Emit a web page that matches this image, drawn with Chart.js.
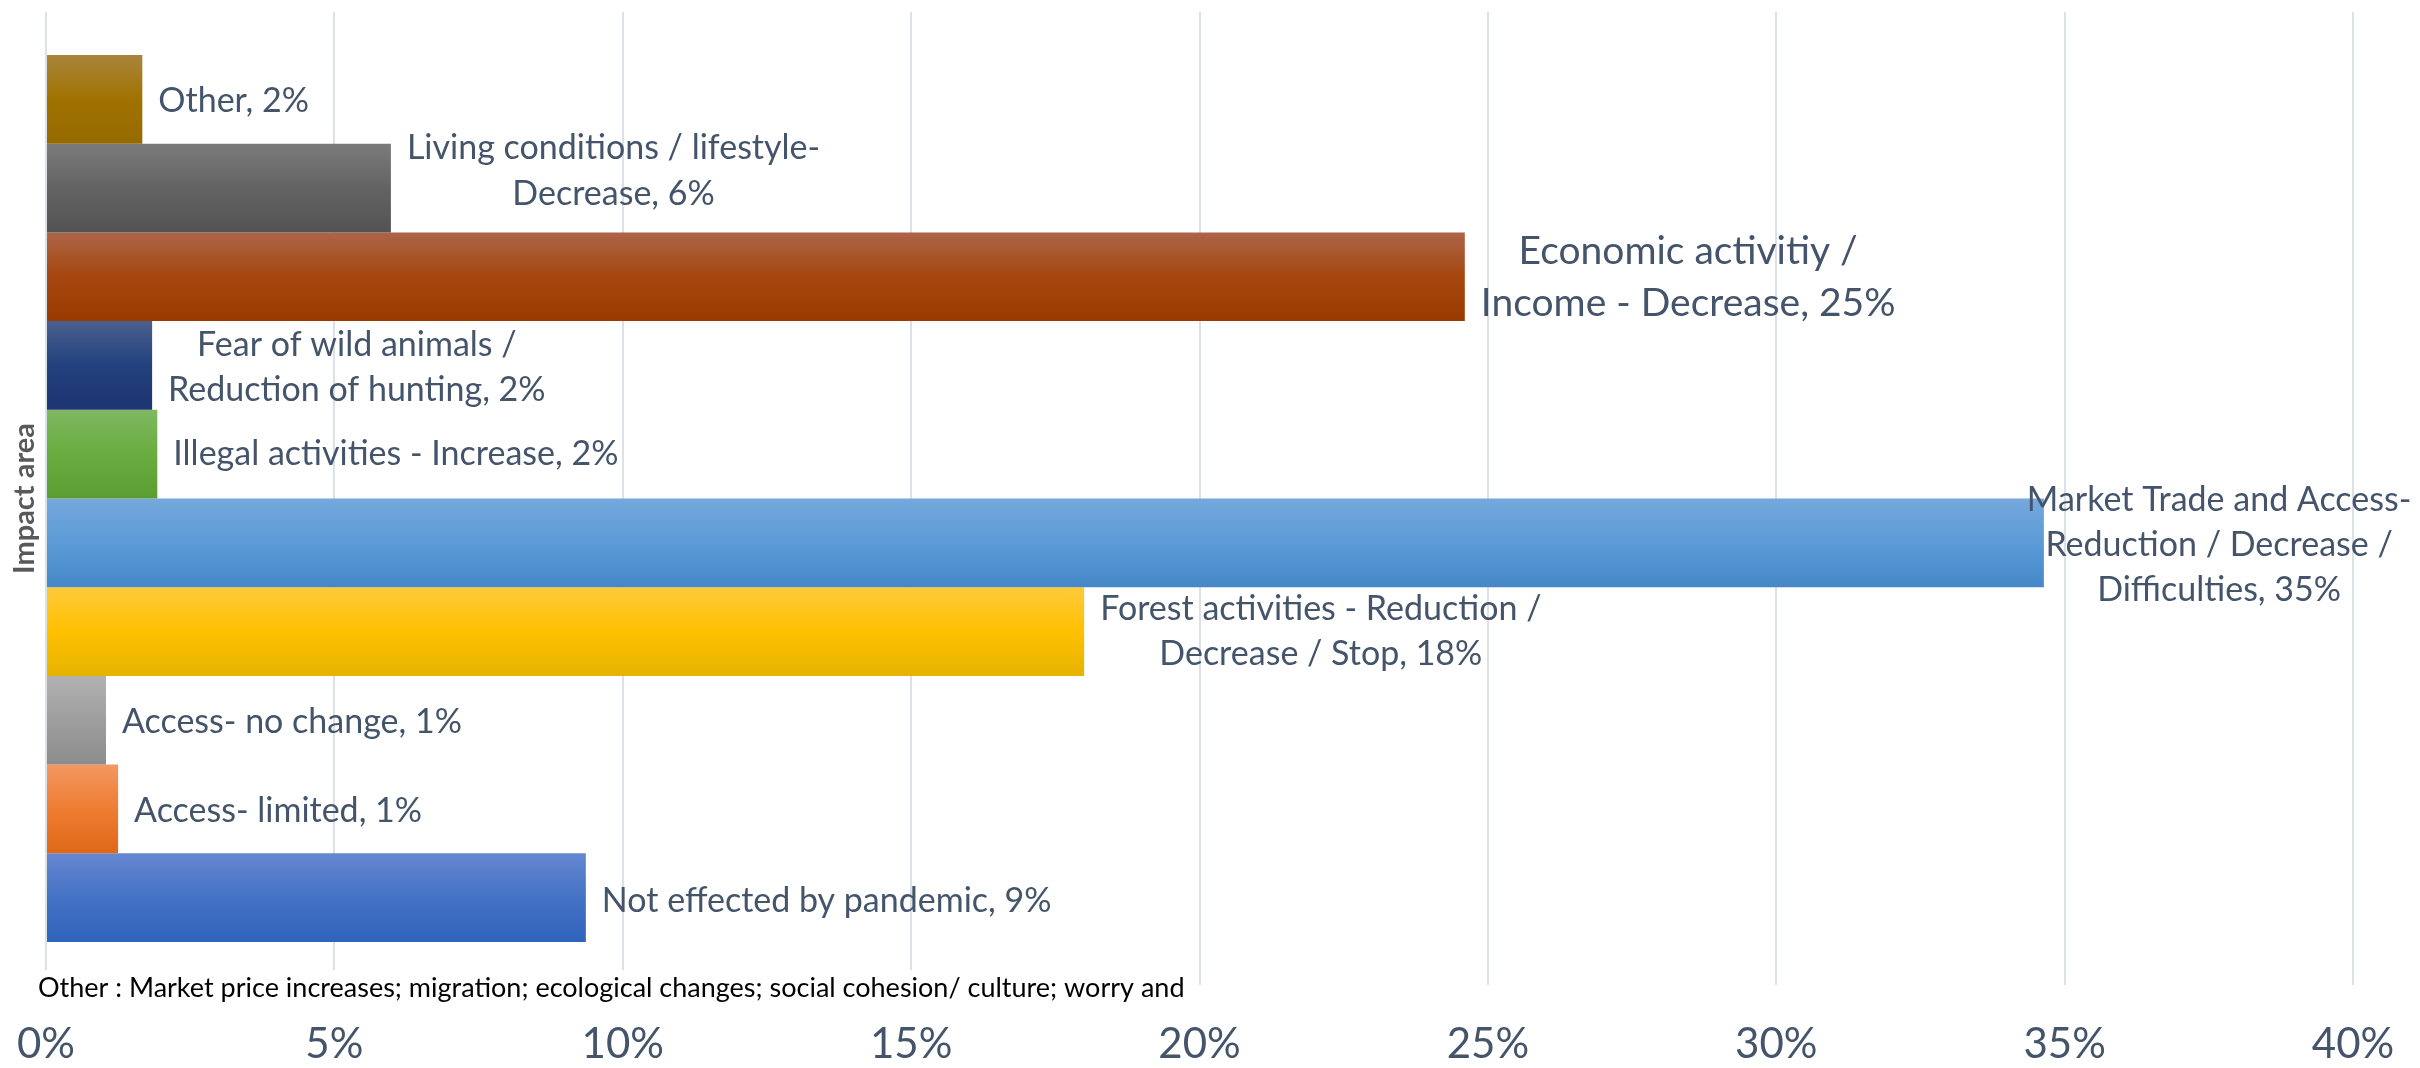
<!DOCTYPE html>
<html lang="en">
<head>
    <meta charset="UTF-8">
    <title>Impact area</title>
    <script src="https://cdn.jsdelivr.net/npm/chart.js"></script>
    <style>
        html, body {
            margin: 0;
            padding: 0;
            background-color: #ffffff;
        }
        .chart-box {
            position: relative;
            width: 2420px;
            height: 1068px;
        }
    </style>
</head>
<body>

<div class="chart-box">
    <canvas id="impactChart" width="2420" height="1068"></canvas>
</div>

<script>
    // impact areas, top to bottom ("\n" = line break in the bar label)
    const impactAreas = [
        'Other',
        'Living conditions / lifestyle-\nDecrease',
        'Economic activitiy /\nIncome - Decrease',
        'Fear of wild animals /\nReduction of hunting',
        'Illegal activities - Increase',
        'Market Trade and Access-\nReduction / Decrease /\nDifficulties',
        'Forest activities - Reduction /\nDecrease / Stop',
        'Access- no change',
        'Access- limited',
        'Not effected by pandemic'
    ];
    // share of respondents, %
    const shares = [1.67, 5.98, 24.6, 1.84, 1.93, 34.64, 18.0, 1.04, 1.25, 9.36];
    const xTickValues = [0, 5, 10, 15, 20, 25, 30, 35, 40];
    const footnote = 'Other : Market price increases; migration; ecological changes; social cohesion/ culture; worry and';

    // gradient stops per bar: top, middle, bottom
    const barColors = [
        ['#A8853C', '#A07300', '#956A00'],
        ['#7B7B7B', '#636363', '#535353'],
        ['#AD6448', '#A5470F', '#993B00'],
        ['#4B5F8E', '#22417E', '#1D3470'],
        ['#80B862', '#6AAC3F', '#5C9D32'],
        ['#76A8DC', '#5B9BD7', '#4587C8'],
        ['#FFCA3C', '#FFC000', '#E6B300'],
        ['#B2B2B2', '#9E9E9E', '#8C8C8C'],
        ['#F39763', '#EE7D31', '#E06818'],
        ['#6587D0', '#4472C4', '#2F63BC']
    ];

    // label placement: gap from bar end to text block, vertical shift, font size
    const labelGap = [16, 16, 16, 16, 16, -17, 16, 16, 16, 16];
    const labelShift = [2, -17, 1, 2, 0, 2, 0, 2, 2, 3];
    const labelSize = [34, 34, 39, 34, 34, 34, 34, 34, 34, 34];

    const textColor = '#44546A';
    const fontFamily = 'Lato, "Open Sans", sans-serif';

    const barGradients = {
        id: 'barGradients',
        beforeDatasetsDraw(chart) {
            const ctx = chart.ctx;
            chart.data.datasets.forEach((ds, i) => {
                chart.getDatasetMeta(i).data.forEach(bar => {
                    const top = bar.y - bar.height / 2;
                    const g = ctx.createLinearGradient(0, top, 0, top + bar.height);
                    g.addColorStop(0, barColors[i][0]);
                    g.addColorStop(0.5, barColors[i][1]);
                    g.addColorStop(1, barColors[i][2]);
                    bar.options = Object.assign({}, bar.options, {backgroundColor: g});
                });
            });
        }
    };

    const barLabels = {
        id: 'barLabels',
        afterDatasetsDraw(chart) {
            const ctx = chart.ctx;
            ctx.save();
            ctx.fillStyle = textColor;
            ctx.textAlign = 'center';
            ctx.textBaseline = 'middle';
            chart.data.datasets.forEach((ds, i) => {
                const bar = chart.getDatasetMeta(i).data[0];
                const lines = (impactAreas[i] + ', ' + Math.round(shares[i]) + '%').split('\n');
                ctx.font = labelSize[i] + 'px ' + fontFamily;
                const widest = Math.max(...lines.map(t => ctx.measureText(t).width));
                const cx = bar.x + labelGap[i] + widest / 2;
                const cy = bar.y + labelShift[i];
                const lh = labelSize[i] * 1.33;
                lines.forEach((t, k) => {
                    ctx.fillText(t, cx, cy + (k - (lines.length - 1) / 2) * lh);
                });
            });
            ctx.restore();
        },
        afterDraw(chart) {
            // footnote sits in a white text box over the grid
            const ctx = chart.ctx;
            ctx.save();
            ctx.font = '27px ' + fontFamily;
            const w = ctx.measureText(footnote).width;
            ctx.fillStyle = '#ffffff';
            ctx.fillRect(34, 970, w + 10, 34);
            ctx.fillStyle = '#000000';
            ctx.textAlign = 'left';
            ctx.textBaseline = 'middle';
            ctx.fillText(footnote, 38, 988);
            ctx.restore();
        }
    };

    new Chart(document.getElementById('impactChart'), {
        type: 'bar',
        data: {
            labels: [''],
            datasets: impactAreas.map((name, i) => ({
                label: name,
                data: [shares[i]],
                backgroundColor: barColors[i][1],
                borderWidth: 0,
                barPercentage: 1,
                categoryPercentage: 0.9116
            }))
        },
        options: {
            indexAxis: 'y',
            responsive: false,
            animation: false,
            devicePixelRatio: 1,
            layout: {
                padding: {top: 12, right: 67, left: 0, bottom: 0}
            },
            plugins: {
                legend: {display: false},
                tooltip: {enabled: false}
            },
            scales: {
                x: {
                    min: 0,
                    max: 40,
                    afterBuildTicks: s => { s.ticks = xTickValues.map(v => ({value: v})); },
                    afterFit: s => {
                        s.height = 83;
                        s.paddingLeft = 0;
                        s.paddingRight = 0;
                    },
                    ticks: {
                        callback: v => v + '%',
                        color: textColor,
                        font: {size: 42, family: fontFamily},
                        padding: 34,
                        maxRotation: 0
                    },
                    grid: {color: '#DCE1E8', lineWidth: 2, drawTicks: false},
                    border: {display: false}
                },
                y: {
                    afterFit: s => { s.width = 46; },
                    ticks: {display: false},
                    grid: {display: false},
                    border: {display: false},
                    title: {
                        display: true,
                        text: 'Impact area',
                        color: '#595959',
                        font: {size: 29, weight: 'bold', family: fontFamily},
                        padding: {top: 7, bottom: 0}
                    }
                }
            }
        },
        plugins: [barGradients, barLabels]
    });
</script>

</body>
</html>
